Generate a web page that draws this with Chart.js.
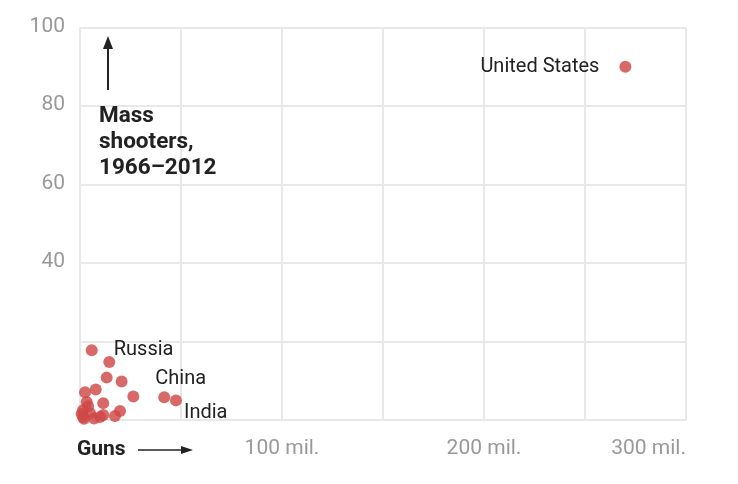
<!DOCTYPE html>
<html><head><meta charset="utf-8">
<script src="https://cdn.jsdelivr.net/npm/chart.js@4"></script>
<style>html,body{margin:0;padding:0;background:#fff}#w{width:738px;height:484px}</style>
</head><body><div id="w"><canvas id="c"></canvas></div>
<script>
const gunsMil = [270, 5.8, 14.5, 13.2, 20.6, 7.8, 2.5, 26.4, 41.7, 47.5, 3.3, 11.5, 19.8, 1.5, 5, 11.5, 17.3, 1.5, 9.9, 4, 2, 0.8, 7];
const shooters = [90, 17.75, 14.8, 10.8, 9.8, 7.75, 7.1, 6, 5.8, 5, 4.6, 4.3, 2.3, 2.5, 1.75, 1.25, 1, 0.75, 0.75, 3.5, 0.3, 1.5, 0.4];
const labels = ['United States','Russia','','','','','','','China','India','','','','','','','','','','','','',''];
const xTickLabels = {100:'100 mil.',200:'200 mil.',300:'300 mil.'};
const yTickLabels = {40:'40',60:'60',80:'80',100:'100'};

const pts = gunsMil.map((x,i)=>({x, y: shooters[i]}));
const FONT = 'Roboto, "Liberation Sans", sans-serif';

const annot = {
  id:'annot',
  afterDatasetsDraw(chart){
    const {ctx, scales:{x,y}} = chart;
    ctx.save();
    ctx.fillStyle='#222';
    ctx.font='20px '+FONT;
    ctx.textBaseline='middle';
    const off = {'United States':[-145,0],'Russia':[22,0],'China':[-9,-18],'India':[8,13]};
    labels.forEach((l,i)=>{
      if(!l) return;
      const px=x.getPixelForValue(gunsMil[i]), py=y.getPixelForValue(shooters[i]);
      ctx.fillText(l, px+off[l][0], py+off[l][1]);
    });
    ctx.font='bold 22.5px '+FONT;
    ctx.textBaseline='alphabetic';
    ctx.fillText('Mass',99,122);
    ctx.fillText('shooters,',99,148);
    ctx.fillText('1966–2012',99,174);
    ctx.strokeStyle='#222'; ctx.lineWidth=2;
    ctx.beginPath(); ctx.moveTo(108,90); ctx.lineTo(108,42); ctx.stroke();
    ctx.beginPath(); ctx.moveTo(103,49); ctx.lineTo(108,36); ctx.lineTo(113,49); ctx.closePath(); ctx.fill();
    ctx.font='bold 21px '+FONT;
    ctx.textBaseline='middle';
    ctx.fillText('Guns',77,450);
    ctx.lineWidth=1.5;
    ctx.beginPath(); ctx.moveTo(138,450); ctx.lineTo(188,450); ctx.stroke();
    ctx.beginPath(); ctx.moveTo(181,446); ctx.lineTo(193,450); ctx.lineTo(181,454); ctx.closePath(); ctx.fill();
    ctx.restore();
  }
};

new Chart(document.getElementById('c'),{
  type:'scatter',
  data:{datasets:[{data:pts, backgroundColor:'rgba(208,72,72,0.82)', borderWidth:0, pointRadius:6, pointHoverRadius:6, clip:false}]},
  options:{
    responsive:true, maintainAspectRatio:false, animation:false,
    layout:{padding:{top:20,right:52,left:0,bottom:0}},
    plugins:{legend:{display:false},tooltip:{enabled:false}},
    scales:{
      x:{min:0,max:300,
        afterFit(s){s.height=64;},
        grid:{color:'#e8e8e8',lineWidth:2,drawTicks:false},
        border:{display:false},
        ticks:{stepSize:50,autoSkip:false,maxRotation:0,align:'inner',padding:16,color:'#999',font:{family:FONT,size:21},
          callback:v=>xTickLabels[v]||''}},
      y:{min:0,max:100,
        afterFit(s){s.width=80;},
        grid:{color:'#e8e8e8',lineWidth:2,drawTicks:false},
        border:{display:false},
        ticks:{stepSize:20,autoSkip:false,padding:15,labelOffset:-1,color:'#999',font:{family:FONT,size:21},
          callback:v=>yTickLabels[v]||''}}
    }
  },
  plugins:[annot]
});
</script></body></html>
